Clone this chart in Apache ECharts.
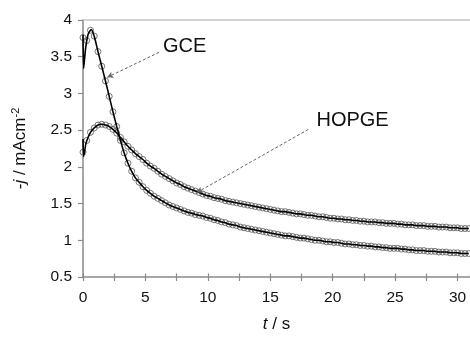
<!DOCTYPE html>
<html><head><meta charset="utf-8">
<script src="https://cdn.jsdelivr.net/npm/echarts@6/dist/echarts.min.js"></script>
<style>html,body{margin:0;padding:0;background:#fff}#c{width:470px;height:338px}</style>
</head><body><div id="c"></div>
<script>
// sample times (s) of the marker points
const tSample = [
 0,0.3,0.6,0.9,1.2,1.5,1.8,2.1,2.4,2.7,
 3.0,3.3,3.6,3.9,4.2,4.5,4.8,5.1,5.4,5.7,
 6.0,6.3,6.6,6.9,7.2,7.5,7.8,8.1,8.4,8.7,
 9.0,9.3,9.6,9.9,10.2,10.5,10.8,11.1,11.4,11.7,
 12.0,12.3,12.6,12.9,13.2,13.5,13.8,14.1,14.4,14.7,
 15.0,15.3,15.6,15.9,16.2,16.5,16.8,17.1,17.4,17.7,
 18.0,18.3,18.6,18.9,19.2,19.5,19.8,20.1,20.4,20.7,
 21.0,21.3,21.6,21.9,22.2,22.5,22.8,23.1,23.4,23.7,
 24.0,24.3,24.6,24.9,25.2,25.5,25.8,26.1,26.4,26.7,
 27.0,27.3,27.6,27.9,28.2,28.5,28.8,29.1,29.4,29.7,
 30.0,30.3,30.6,30.9];
const gceJ = [
 3.76,3.72,3.86,3.78,3.57,3.37,3.17,2.96,2.75,2.55,
 2.36,2.19,2.05,1.94,1.85,1.79,1.73,1.68,1.64,1.60,
 1.57,1.54,1.51,1.48,1.46,1.44,1.42,1.40,1.38,1.37,
 1.35,1.34,1.33,1.31,1.30,1.28,1.27,1.25,1.24,1.22,
 1.21,1.20,1.18,1.17,1.16,1.15,1.14,1.13,1.12,1.11,
 1.10,1.09,1.08,1.07,1.06,1.06,1.05,1.04,1.03,1.03,
 1.02,1.01,1.00,1.00,0.99,0.98,0.98,0.97,0.97,0.96,
 0.95,0.95,0.94,0.94,0.93,0.93,0.92,0.92,0.91,0.91,
 0.90,0.90,0.89,0.89,0.89,0.88,0.88,0.87,0.87,0.86,
 0.86,0.86,0.85,0.85,0.85,0.84,0.84,0.84,0.83,0.83,
 0.83,0.82,0.82,0.82];
const hopgeJ = [
 2.20,2.36,2.47,2.53,2.57,2.58,2.57,2.55,2.51,2.46,
 2.40,2.34,2.28,2.23,2.18,2.14,2.10,2.05,2.01,1.98,
 1.94,1.90,1.87,1.84,1.81,1.78,1.76,1.73,1.71,1.69,
 1.67,1.65,1.63,1.61,1.60,1.58,1.57,1.56,1.54,1.53,
 1.52,1.51,1.50,1.49,1.48,1.47,1.46,1.45,1.44,1.43,
 1.42,1.41,1.40,1.39,1.39,1.38,1.37,1.36,1.36,1.35,
 1.34,1.34,1.33,1.32,1.32,1.31,1.30,1.30,1.29,1.29,
 1.28,1.28,1.27,1.27,1.26,1.26,1.25,1.25,1.25,1.24,
 1.24,1.23,1.23,1.23,1.22,1.22,1.21,1.21,1.21,1.20,
 1.20,1.20,1.19,1.19,1.19,1.18,1.18,1.18,1.17,1.17,
 1.17,1.16,1.16,1.16];
// experimental-line start transients (t, j)
const gceLineStart = [[0,3.80],[0.05,3.34],[0.2,3.60],[0.4,3.80],[0.65,3.87]];
const gceLineFrom = 3;
const hopgeLineStart = [[0,2.38],[0.05,2.14],[0.25,2.33]];
const hopgeLineFrom = 2;
// annotations
const gceLabel = {text:'GCE', at:[6.4,3.64], arrowFrom:[6.1,3.56], arrowTo:[1.95,3.22]};
const hopgeLabel = {text:'HOPGE', at:[18.7,2.63], arrowFrom:[18.05,2.51], arrowTo:[9.12,1.65]};
const xTicks = [0,5,10,15,20,25,30];

const pts = arr => tSample.map((t,i)=>[t,arr[i]]);
const gcePts = pts(gceJ), hopgePts = pts(hopgeJ);
const gceLine = gceLineStart.concat(gcePts.slice(gceLineFrom));
const hopgeLine = hopgeLineStart.concat(hopgePts.slice(hopgeLineFrom));

const FONT = '"Liberation Sans", Arial, sans-serif';
const axisGray = '#8a8a8a';
const chart = echarts.init(document.getElementById('c'), null, {renderer:'canvas'});

function ann(a){
  return {
    type:'line', xAxisIndex:0, yAxisIndex:0, data:[], silent:true,
    markLine:{
      silent:true, symbol:['none','arrow'], symbolSize:[5,6],
      lineStyle:{color:'#666', type:[3,2], width:1},
      label:{show:false},
      data:[[{coord:a.arrowFrom},{coord:a.arrowTo}]]
    },
    markPoint:{
      silent:true, symbol:'circle', symbolSize:0,
      label:{show:true, position:'right', distance:0, formatter:a.text,
        color:'#111', fontSize:20, fontFamily:FONT},
      data:[{coord:a.at}]
    }
  };
}

chart.setOption({
  animation:false,
  backgroundColor:'#fff',
  grid:{left:83, top:20, right:0, bottom:55, containLabel:false},
  xAxis:[
    {type:'value', min:0, max:31, interval:2.5, position:'bottom',
     axisLine:{show:true, onZero:false, lineStyle:{color:axisGray, width:1.5}},
     axisTick:{show:true, inside:false, length:4, lineStyle:{color:axisGray, width:1.2}},
     axisLabel:{margin:13, color:'#111', fontSize:15.5, fontFamily:FONT, showMaxLabel:false,
       formatter:v => xTicks.indexOf(v) >= 0 ? String(v) : ''},
     splitLine:{show:false},
     name:'{i|t} / s', nameLocation:'middle', nameGap:39,
     nameTextStyle:{color:'#111', fontSize:17, fontFamily:FONT,
       rich:{i:{fontStyle:'italic', fontSize:17, fontFamily:FONT, color:'#111'}}}},
    {type:'value', min:0, max:31, interval:2.5, position:'bottom',
     axisLine:{show:false, onZero:false},
     axisTick:{show:true, inside:true, length:3.5, lineStyle:{color:axisGray, width:1.2}},
     axisLabel:{show:false}, splitLine:{show:false}},
    {type:'value', min:0, max:31, position:'top',
     axisLine:{show:true, onZero:false, lineStyle:{color:'#c4c4c4', width:1.5}},
     axisTick:{show:false}, axisLabel:{show:false}, splitLine:{show:false}}
  ],
  yAxis:[{
    type:'value', min:0.5, max:4, interval:0.5,
    axisLine:{show:true, onZero:false, lineStyle:{color:axisGray, width:1.5}},
    axisTick:{show:true, inside:false, length:5, lineStyle:{color:axisGray, width:1.2}},
    axisLabel:{margin:11, color:'#111', fontSize:15.5, fontFamily:FONT},
    splitLine:{show:false},
    name:'-{i|j} / mAcm{s|-2}', nameLocation:'middle', nameGap:52,
    nameTextStyle:{color:'#111', fontSize:17, fontFamily:FONT,
      rich:{i:{fontStyle:'italic', fontSize:17, fontFamily:FONT, color:'#111'},
            s:{fontSize:11, fontFamily:FONT, color:'#111', verticalAlign:'bottom', padding:[0,0,10,0]}}}
  }],
  series:[
    {type:'scatter', name:'GCE fit', xAxisIndex:0, yAxisIndex:0, data:gcePts,
     symbol:'circle', symbolSize:6,
     itemStyle:{color:'rgba(255,255,255,0)', borderColor:'#555', borderWidth:1}},
    {type:'scatter', name:'HOPGE fit', xAxisIndex:0, yAxisIndex:0, data:hopgePts,
     symbol:'circle', symbolSize:6,
     itemStyle:{color:'rgba(255,255,255,0)', borderColor:'#555', borderWidth:1}},
    {type:'line', name:'GCE', xAxisIndex:0, yAxisIndex:0, data:gceLine, showSymbol:false,
     smooth:0.2, lineStyle:{color:'#000', width:1.6}},
    {type:'line', name:'HOPGE', xAxisIndex:0, yAxisIndex:0, data:hopgeLine, showSymbol:false,
     smooth:0.2, lineStyle:{color:'#000', width:1.6}},
    ann(gceLabel), ann(hopgeLabel)
  ]
});
</script></body></html>
